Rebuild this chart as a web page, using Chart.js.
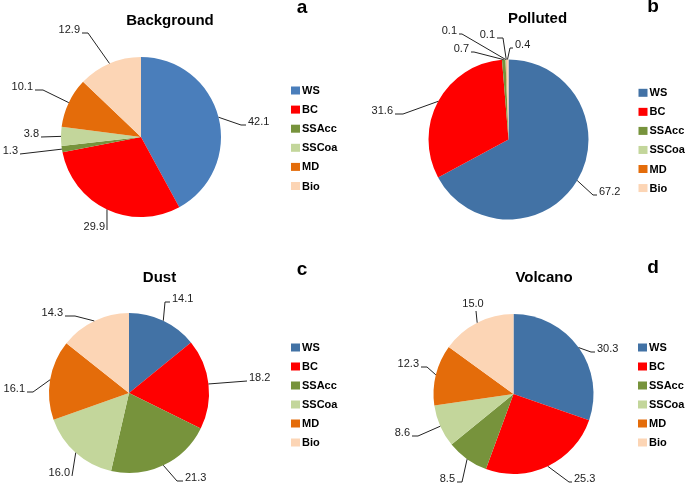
<!DOCTYPE html>
<html>
<head>
<meta charset="utf-8">
<script src="https://cdn.jsdelivr.net/npm/chart.js@4.4.0/dist/chart.umd.min.js"></script>
<style>
  body { margin: 0; background: #fff; }
  #wrap { position: relative; width: 685px; height: 484px; }
  .panel { position: absolute; }
</style>
</head>
<body>
<div id="wrap">
  <div class="panel" style="left:0;top:0;width:342px;height:242px"><canvas id="pieA"></canvas></div>
  <div class="panel" style="left:342px;top:0;width:343px;height:242px"><canvas id="pieB"></canvas></div>
  <div class="panel" style="left:0;top:242px;width:342px;height:242px"><canvas id="pieC"></canvas></div>
  <div class="panel" style="left:342px;top:242px;width:343px;height:242px"><canvas id="pieD"></canvas></div>
</div>
<script>
// aerosol source contributions (%)
const categories = ['WS', 'BC', 'SSAcc', 'SSCoa', 'MD', 'Bio'];
const background = [42.1, 29.9, 1.3, 3.8, 10.1, 12.9];
const polluted   = [67.2, 31.6, 0.7, 0.1, 0.1, 0.4];
const dust       = [14.1, 18.2, 21.3, 16.0, 16.1, 14.3];
const volcano    = [30.3, 25.3, 8.5, 8.6, 12.3, 15.0];
const titles = ['Background', 'Polluted', 'Dust', 'Volcano'];
const letters = ['a', 'b', 'c', 'd'];

const FONT = 'Arial, "Liberation Sans", Helvetica, sans-serif';
const sliceColors = ['#4a7ebb', '#ff0000', '#77933c', '#c3d69b', '#e46c0a', '#fcd5b5'];
const wsDark = '#4272a5';

// label placement: [dx, dy from pie centre, side, elbow length]
const leadersA = [[105, -12, 'r', 5], [-34, 93, 'l', 0], [-121, 17, 'l', 0], [-100, 0, 'l', 0], [-106, -47, 'l', 8], [-59, -104, 'l', 6]];
const leadersB = [[88.5, 55.5, 'r', 4], [-113.5, -25.5, 'l', 8], [-37.5, -87.5, 'l', 3], [-49.5, -105.5, 'l', 3], [-11.5, -101.5, 'l', 6], [4.5, -91.5, 'r', 3]];
const leadersC = [[41, -91, 'r', 5], [118, -12, 'r', 0], [54, 88, 'r', 6], [-57, 83, 'l', 0], [-102, -1, 'l', 6], [-64, -77, 'l', 10]];
const leadersD = [[81.5, -42, 'r', 4], [58.5, 88, 'r', 3], [-56.5, 88, 'l', 5], [-101.5, 42, 'l', 6], [-92.5, -27, 'l', 6], [-37.5, -83, 'c', 0]];

const panelPlugin = {
  id: 'panel',
  afterDraw(chart, args, opts) {
    const ctx = chart.ctx;
    const meta = chart.getDatasetMeta(0);
    const ds = chart.data.datasets[0];
    ctx.save();

    // title + panel letter
    ctx.fillStyle = '#000';
    ctx.textAlign = 'center';
    ctx.textBaseline = 'middle';
    ctx.font = 'bold 15px ' + FONT;
    ctx.fillText(opts.title, opts.titlePos[0], opts.titlePos[1]);
    ctx.font = 'bold 19px ' + FONT;
    ctx.fillText(opts.letter, opts.letterPos[0], opts.letterPos[1]);

    // legend
    ctx.font = 'bold 11px ' + FONT;
    ctx.textAlign = 'left';
    chart.data.labels.forEach((lab, i) => {
      const y = opts.legend.y0 + i * opts.legend.step;
      ctx.fillStyle = ds.backgroundColor[i];
      ctx.fillRect(opts.legend.x - 11, y - 4, 9, 8);
      ctx.fillStyle = '#000';
      ctx.fillText(lab, opts.legend.x, y + 0.5);
    });

    // leader lines + values
    ctx.strokeStyle = '#222';
    ctx.lineWidth = 1;
    ctx.font = '11px ' + FONT;
    meta.data.forEach((arc, i) => {
      const p = arc.getProps(['x', 'y', 'startAngle', 'endAngle', 'outerRadius'], true);
      const mid = (p.startAngle + p.endAngle) / 2;
      const ax = p.x + Math.cos(mid) * p.outerRadius;
      const ay = p.y + Math.sin(mid) * p.outerRadius;
      const L = opts.leaders[i];
      const ex = p.x + L[0], ey = p.y + L[1];
      const dir = L[2] === 'r' ? -1 : 1;
      const bx = ex + dir * L[3];
      ctx.beginPath();
      ctx.moveTo(ax, ay);
      ctx.lineTo(bx, ey);
      ctx.lineTo(ex, ey);
      ctx.stroke();
      ctx.fillStyle = '#222';
      const txt = ds.data[i].toFixed(1);
      if (L[2] === 'r') {
        ctx.textAlign = 'left';
        ctx.fillText(txt, ex + 2, ey - 3);
      } else if (L[2] === 'l') {
        ctx.textAlign = 'right';
        ctx.fillText(txt, ex - 2, ey - 3);
      } else {
        ctx.textAlign = 'center';
        ctx.fillText(txt, ex - 3, ey - 7);
      }
    });
    ctx.restore();
  }
};

function makePie(id, values, wsColor, pad, opts) {
  const colors = sliceColors.slice();
  colors[0] = wsColor;
  return new Chart(document.getElementById(id), {
    type: 'pie',
    data: {
      labels: categories,
      datasets: [{ data: values, backgroundColor: colors, borderWidth: 0 }]
    },
    options: {
      responsive: true,
      maintainAspectRatio: false,
      animation: false,
      layout: { padding: pad },
      plugins: {
        legend: { display: false },
        tooltip: { enabled: false },
        panel: opts
      }
    },
    plugins: [panelPlugin]
  });
}

makePie('pieA', background, sliceColors[0],
  { left: 61, top: 57, right: 121, bottom: 25 },
  { title: titles[0], titlePos: [170, 21], letter: letters[0], letterPos: [302, 8],
    legend: { x: 302, y0: 90.5, step: 19.1 }, leaders: leadersA });

makePie('pieB', polluted, wsDark,
  { left: 86.5, top: 59.5, right: 96.5, bottom: 22.5 },
  { title: titles[1], titlePos: [195.5, 19], letter: letters[1], letterPos: [311, 7],
    legend: { x: 307.5, y0: 92.8, step: 19.05 }, leaders: leadersB });

makePie('pieC', dust, wsDark,
  { left: 49, top: 71, right: 133, bottom: 11 },
  { title: titles[2], titlePos: [159.5, 36], letter: letters[2], letterPos: [302, 28],
    legend: { x: 302, y0: 105.5, step: 19 }, leaders: leadersC });

makePie('pieD', volcano, wsDark,
  { left: 91.5, top: 72, right: 91.5, bottom: 10 },
  { title: titles[3], titlePos: [202, 36], letter: letters[3], letterPos: [311, 26],
    legend: { x: 307, y0: 105.5, step: 19 }, leaders: leadersD });
</script>
</body>
</html>
